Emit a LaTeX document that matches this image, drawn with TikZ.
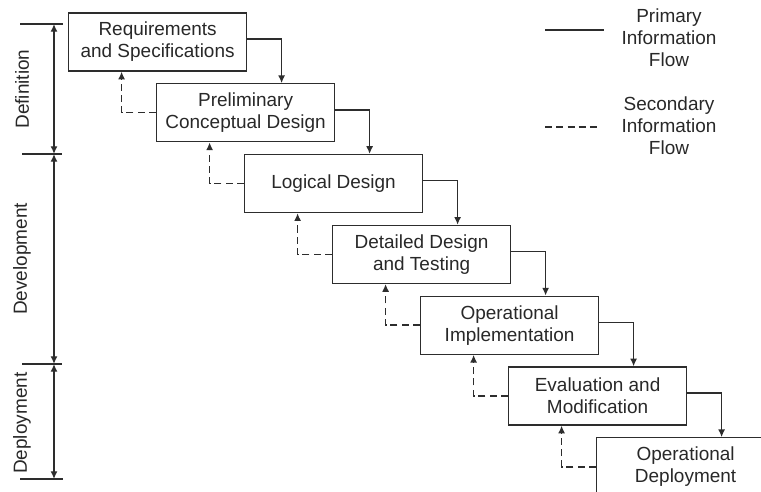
\documentclass[tikz,border=0pt]{standalone}
\usepackage{fontspec}
\setmainfont{Liberation Sans}
\usepackage{tikz}
\usetikzlibrary{arrows.meta,positioning,calc}
\usepackage{xcolor}
\definecolor{FlowGray}{RGB}{45,45,45}
\definecolor{TextGray}{RGB}{40,40,40}

\begin{document}
\begin{tikzpicture}[
  phase/.style={draw=FlowGray,line width=0.9pt,minimum width=4.45cm,minimum height=1.45cm,
                align=center,text=TextGray,font=\fontsize{13.5}{15.6}\selectfont},
  lbl/.style={align=center,text=TextGray,font=\fontsize{13.5}{15.6}\selectfont},
  pflow/.style={draw=FlowGray,line width=1pt,-{Latex[length=5.5pt,width=5pt]}},
  sflow/.style={draw=FlowGray,line width=1pt,dash pattern=on 5pt off 3pt,-{Latex[length=5.5pt,width=5pt]}},
  dimln/.style={draw=FlowGray,line width=1pt,{Latex[length=5.5pt,width=5pt]}-{Latex[length=5.5pt,width=5pt]}},
]
\useasboundingbox (0,0) rectangle (19.025,12.3);
\clip (0,0) rectangle (19.025,12.3);
% waterfall boxes
\node[phase] (req) at (3.94,11.25) {Requirements\\and Specifications};
\node[phase] (pcd) at (6.14,9.48) {Preliminary\\Conceptual Design};
\node[phase] (logd) at (8.34,7.71) {Logical Design};
\node[phase] (ddt) at (10.54,5.94) {Detailed Design\\and Testing};
\node[phase] (opimp) at (12.74,4.17) {Operational\\Implementation};
\node[phase] (evm) at (14.94,2.40) {Evaluation and\\Modification};
\node[phase] (opdep) at (17.14,0.63) {Operational\\Deployment};
% primary flow
\draw[pflow] ([yshift=2pt]req.east) -| ([xshift=0.9cm]pcd.north);
\draw[pflow] ([yshift=2pt]pcd.east) -| ([xshift=0.9cm]logd.north);
\draw[pflow] ([yshift=2pt]logd.east) -| ([xshift=0.9cm]ddt.north);
\draw[pflow] ([yshift=2pt]ddt.east) -| ([xshift=0.9cm]opimp.north);
\draw[pflow] ([yshift=2pt]opimp.east) -| ([xshift=0.9cm]evm.north);
\draw[pflow] ([yshift=2pt]evm.east) -| ([xshift=0.9cm]opdep.north);
% secondary flow
\draw[sflow] (pcd.west) -| ([xshift=-0.9cm]req.south);
\draw[sflow] (logd.west) -| ([xshift=-0.9cm]pcd.south);
\draw[sflow] (ddt.west) -| ([xshift=-0.9cm]logd.south);
\draw[sflow] (opimp.west) -| ([xshift=-0.9cm]ddt.south);
\draw[sflow] (evm.west) -| ([xshift=-0.9cm]opimp.south);
\draw[sflow] (opdep.west) -| ([xshift=-0.9cm]evm.south);
% phase axis
\coordinate (ax0) at (1.35,11.7);
\coordinate (ax1) at (1.35,8.45);
\coordinate (ax2) at (1.35,3.2);
\coordinate (ax3) at (1.35,0.325);
\draw[FlowGray,line width=1pt] (0.5,11.7) -- (1.575,11.7);
\draw[FlowGray,line width=1pt] (0.55,8.45) -- (1.55,8.45);
\draw[FlowGray,line width=1pt] (0.55,3.2) -- (1.55,3.2);
\draw[FlowGray,line width=1pt] (0.5,0.325) -- (1.575,0.325);
\draw[dimln] (ax0) -- (ax1);
\draw[dimln] (ax1) -- (ax2);
\draw[dimln] (ax2) -- (ax3);
\node[lbl,rotate=90] (defn) at (0.55,10.075) {Definition};
\node[lbl,rotate=90] (devl) at (0.55,5.825) {Development};
\node[lbl,rotate=90] (depl) at (0.55,1.72) {Deployment};
% legend
\node[lbl] (primlbl) at (16.725,11.35) {Primary\\Information\\Flow};
\node[lbl] (seclbl) at (16.725,9.16) {Secondary\\Information\\Flow};
\coordinate (prim0) at (13.625,11.55);
\coordinate (prim1) at (15.1,11.55);
\coordinate (sec0) at (13.625,9.125);
\coordinate (sec1) at (15.0,9.125);
\draw[FlowGray,line width=1pt] (prim0) -- (prim1);
\draw[FlowGray,line width=1pt,dash pattern=on 5pt off 3pt] (sec0) -- (sec1);
\end{tikzpicture}
\end{document}
